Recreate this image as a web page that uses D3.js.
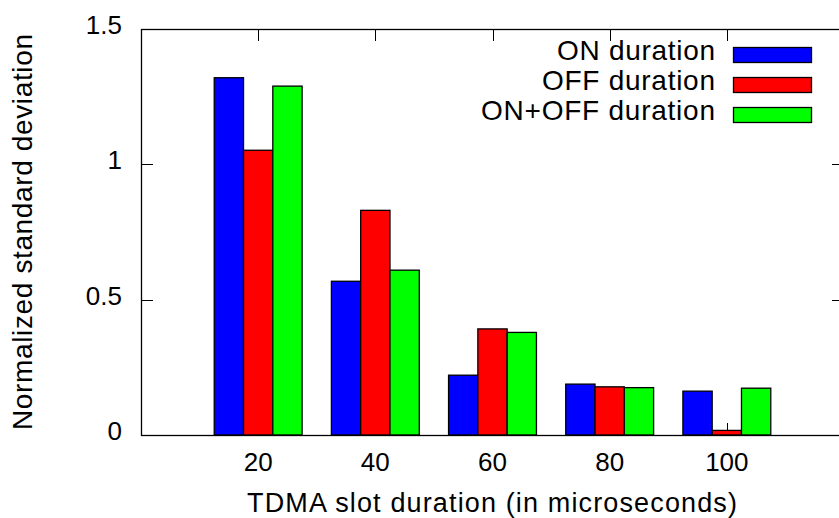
<!DOCTYPE html>
<html>
<head>
<meta charset="utf-8">
<script src="https://cdn.jsdelivr.net/npm/d3@7"></script>
<style>
  body { margin: 0; background: #fff; }
  text { font-family: "Liberation Sans", Arial, sans-serif; fill: #000; }
</style>
</head>
<body>
<div id="chart"></div>
<script>
const width = 839;
const height = 518;

// data
const slots = [20, 40, 60, 80, 100];
const seriesNames = ['ON duration', 'OFF duration', 'ON+OFF duration'];
const colors = ['#0000ff', '#ff0000', '#00ff00'];
const onValues = [1.32, 0.568, 0.221, 0.188, 0.162];
const offValues = [1.052, 0.830, 0.392, 0.178, 0.017];
const bothValues = [1.289, 0.609, 0.379, 0.175, 0.173];
const yTicks = [0, 0.5, 1, 1.5];
const yTickLabels = ['0', '0.5', '1', '1.5'];

const series = [onValues, offValues, bothValues];

const margin = { left: 141, top: 29, right: 844, bottom: 435 };

const svg = d3.select('#chart')
  .append('svg')
  .attr('width', width)
  .attr('height', height)

const x = d3.scaleLinear()
  .domain([0, 120])
  .range([margin.left, margin.right])

const y = d3.scaleLinear()
  .domain([0, 1.5])
  .range([margin.bottom, margin.top])

// ticks (drawn first so the bars sit on top)
const ticks = svg.append('g')
  .attr('stroke', '#000')
  .attr('stroke-width', 1)

ticks.selectAll('.yl')
  .data(yTicks)
  .join('line')
  .attr('x1', margin.left).attr('x2', margin.left + 12)
  .attr('y1', d => Math.round(y(d)) + 0.5).attr('y2', d => Math.round(y(d)) + 0.5)

ticks.selectAll('.yr')
  .data(yTicks)
  .join('line')
  .attr('x1', margin.right - 12).attr('x2', margin.right)
  .attr('y1', d => Math.round(y(d)) + 0.5).attr('y2', d => Math.round(y(d)) + 0.5)

ticks.selectAll('.xb')
  .data(slots)
  .join('line')
  .attr('x1', d => Math.round(x(d)) + 0.5).attr('x2', d => Math.round(x(d)) + 0.5)
  .attr('y1', margin.bottom).attr('y2', margin.bottom - 12)

ticks.selectAll('.xt')
  .data(slots)
  .join('line')
  .attr('x1', d => Math.round(x(d)) + 0.5).attr('x2', d => Math.round(x(d)) + 0.5)
  .attr('y1', margin.top).attr('y2', margin.top + 12)

// bars
const barW = 5;
const offsets = [-5, 0, 5];

series.forEach((vals, si) => {
  svg.append('g')
    .selectAll('rect')
    .data(vals)
    .join('rect')
    .attr('x', (d, i) => x(slots[i] + offsets[si] - barW / 2))
    .attr('width', x(barW) - x(0))
    .attr('y', d => y(d))
    .attr('height', d => y(0) - y(d))
    .attr('fill', colors[si])
    .attr('stroke', '#000')
    .attr('stroke-width', 1.3)
});

// frame
svg.append('rect')
  .attr('x', margin.left + 0.5)
  .attr('y', margin.top + 0.5)
  .attr('width', margin.right - margin.left)
  .attr('height', margin.bottom - margin.top)
  .attr('fill', 'none')
  .attr('stroke', '#000')
  .attr('stroke-width', 1.3)

// tick labels
svg.append('g')
  .selectAll('text')
  .data(yTicks)
  .join('text')
  .attr('x', 122)
  .attr('y', d => y(d) + 5)
  .attr('text-anchor', 'end')
  .style('font-size', '26px')
  .text((d, i) => yTickLabels[i])

svg.append('g')
  .selectAll('text')
  .data(slots)
  .join('text')
  .attr('x', d => x(d))
  .attr('y', 471)
  .attr('text-anchor', 'middle')
  .style('font-size', '26px')
  .text(d => d)

// axis titles
svg.append('text')
  .attr('x', 492)
  .attr('y', 512)
  .attr('text-anchor', 'middle')
  .attr('textLength', 490)
  .attr('lengthAdjust', 'spacing')
  .style('font-size', '27px')
  .text('TDMA slot duration (in microseconds)')

svg.append('text')
  .attr('transform', 'translate(32,232) rotate(-90)')
  .attr('text-anchor', 'middle')
  .attr('textLength', 396)
  .attr('lengthAdjust', 'spacing')
  .style('font-size', '28px')
  .text('Normalized standard deviation')

// legend
const legendWidths = [158, 173, 234];

const legend = svg.append('g')
  .selectAll('g')
  .data(seriesNames)
  .join('g')
  .attr('transform', (d, i) => `translate(0,${47 + i * 30})`)

legend.append('text')
  .attr('x', 715)
  .attr('y', 13)
  .attr('text-anchor', 'end')
  .attr('textLength', (d, i) => legendWidths[i])
  .attr('lengthAdjust', 'spacing')
  .style('font-size', '28px')
  .text(d => d)

legend.append('rect')
  .attr('x', 733.5)
  .attr('y', 0.5)
  .attr('width', 78)
  .attr('height', 15)
  .attr('fill', (d, i) => colors[i])
  .attr('stroke', '#000')
  .attr('stroke-width', 1.3)
</script>
</body>
</html>
